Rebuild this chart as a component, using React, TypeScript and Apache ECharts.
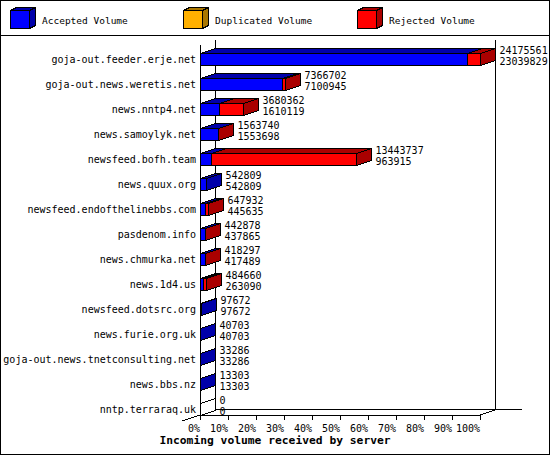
import { useEffect, useRef } from "react";
import * as echarts from "echarts";

const servers = [
  "goja-out.feeder.erje.net",
  "goja-out.news.weretis.net",
  "news.nntp4.net",
  "news.samoylyk.net",
  "newsfeed.bofh.team",
  "news.quux.org",
  "newsfeed.endofthelinebbs.com",
  "pasdenom.info",
  "news.chmurka.net",
  "news.1d4.us",
  "newsfeed.dotsrc.org",
  "news.furie.org.uk",
  "goja-out.news.tnetconsulting.net",
  "news.bbs.nz",
  "nntp.terraraq.uk",
];
const offered = [
  24175561, 7366702, 3680362, 1563740, 13443737, 542809, 647932, 442878,
  418297, 484660, 97672, 40703, 33286, 13303, 0,
];
const accepted = [
  23039829, 7100945, 1610119, 1553698, 963915, 542809, 445635, 437865,
  417489, 263090, 97672, 40703, 33286, 13303, 0,
];
const legendNames = ["Accepted Volume", "Duplicated Volume", "Rejected Volume"];
const axisTitle = "Incoming volume received by server";

const MAX = Math.max(...offered);
const DX = 15; // depth offsets of the fake 3D
const DY = 5;
const HALF = 6;
const FONT = '"DejaVu Sans Mono", monospace';

const BLUE = "#0000ff";
const DBLUE = "#0000aa";
const RED = "#ff0000";
const DRED = "#aa0000";
const ORANGE = "#ffb000";
const DORANGE = "#aa7700";

function box(xs: number, xe: number, c: number, front: string, side: string) {
  const top = c - HALF;
  const bot = c + HALF;
  const st = (fill: string) => ({ fill, stroke: "#000", lineWidth: 1 });
  return [
    { type: "rect", shape: { x: xs, y: top, width: xe - xs, height: bot - top }, style: st(front) },
    { type: "polygon", shape: { points: [[xs, top], [xe, top], [xe + DX, top - DY], [xs + DX, top - DY]] }, style: st(side) },
    { type: "polygon", shape: { points: [[xe, top], [xe + DX, top - DY], [xe + DX, bot - DY], [xe, bot]] }, style: st(side) },
  ];
}

function cube(x: number, y: number, front: string, side: string) {
  const w = 19, h = 18, d = 6, e = 3;
  const st = (fill: string) => ({ fill, stroke: "#000", lineWidth: 1 });
  return [
    { type: "polygon", shape: { points: [[x, y], [x + d, y - e], [x + w + d, y - e], [x + w, y]] }, style: st(side) },
    { type: "polygon", shape: { points: [[x + w, y], [x + w + d, y - e], [x + w + d, y + h - e], [x + w, y + h]] }, style: st(side) },
    { type: "rect", shape: { x, y, width: w, height: h }, style: st(front) },
  ];
}

export default function App() {
  const ref = useRef<HTMLDivElement>(null);

  useEffect(() => {
    if (!ref.current) return;
    const chart = echarts.init(ref.current, null, { renderer: "svg" });

    const legendPos = [10, 183, 357];
    const legendColors = [[BLUE, DBLUE], [ORANGE, DORANGE], [RED, DRED]];
    const legendGraphics: any[] = [];
    legendNames.forEach((name, k) => {
      legendGraphics.push({
        type: "group",
        children: cube(legendPos[k] + 0.5, 10.5, legendColors[k][0], legendColors[k][1]),
      });
      legendGraphics.push({
        type: "text",
        x: legendPos[k] + 32,
        y: 20,
        style: { text: name, fill: "#000", font: `9.5px ${FONT}`, verticalAlign: "middle" },
      });
    });

    chart.setOption({
      animation: false,
      backgroundColor: "#fff",
      grid: { left: 200, right: 70, top: 46.5, bottom: 33.5 },
      xAxis: {
        type: "value",
        min: 0,
        max: MAX,
        interval: MAX / 10,
        offset: -6.5,
        axisLine: { show: true, lineStyle: { color: "#000", width: 1 } },
        axisTick: { show: true, length: 5, lineStyle: { color: "#000" } },
        axisLabel: {
          color: "#000",
          fontFamily: FONT,
          fontSize: 10,
          align: "right",
          margin: 8,
          formatter: (v: number) => `${Math.round((v / MAX) * 100)}%`,
        },
        splitLine: { show: false },
      },
      yAxis: {
        type: "category",
        inverse: true,
        data: servers,
        axisLine: { show: false },
        axisTick: { show: false },
        axisLabel: { color: "#000", fontFamily: FONT, fontSize: 10, margin: 4 },
        splitLine: { show: false },
      },
      graphic: [
        { type: "rect", shape: { x: 0.5, y: 0.5, width: 549, height: 454 }, style: { fill: "none", stroke: "#000" }, z: 100 },
        { type: "line", shape: { x1: 0, y1: 35.5, x2: 550, y2: 35.5 }, style: { stroke: "#000" } },
        ...legendGraphics,
        {
          type: "text",
          left: "center",
          top: 435,
          style: { text: axisTitle, fill: "#000", font: `bold 11.3px ${FONT}` },
        },
      ],
      series: [
        {
          // the walls and floor of the 3D frame
          type: "custom",
          clip: false,
          z: 1,
          silent: true,
          data: [[0, 0, 0]],
          encode: { x: 0, y: 1 },
          renderItem: (_p: any, api: any) => {
            const [x0, c0] = api.coord([0, 0]);
            const [x1, cl] = api.coord([MAX, servers.length - 1]);
            const yTop = c0 - HALF - 8;
            const yBot = cl + HALF;
            const ln = (a: number, b: number, c: number, d: number) => ({
              type: "line",
              shape: { x1: a, y1: b, x2: c, y2: d },
              style: { stroke: "#000", lineWidth: 1 },
            });
            return {
              type: "group",
              children: [
                ln(x0 + 0.5, yTop, x0 + 0.5, yBot),
                ln(x0 + DX + 0.5, yTop - DY, x0 + DX + 0.5, yBot - DY),
                ln(x1 + DX + 0.5, yTop - DY, x1 + DX + 0.5, yBot - DY),
                ln(x0 + DX, yBot - DY - 0.5, x1 + DX + 27, yBot - DY - 0.5),
                ln(x1, yBot, x1 + DX, yBot - DY),
                ln(x0 - 18, yBot + 6, x0 + DX, yBot - DY),
              ],
            };
          },
        },
        {
          type: "custom",
          clip: false,
          z: 2,
          data: servers.map((_, i) => [offered[i], i, accepted[i]]),
          encode: { x: [0, 2], y: 1 },
          renderItem: (_p: any, api: any) => {
            const tot = api.value(0);
            const i = api.value(1);
            const acc = api.value(2);
            const [x0r, cr] = api.coord([0, i]);
            const x0 = Math.round(x0r) + 0.5;
            const c = Math.round(cr) + 0.5;
            const xa = Math.round(api.coord([acc, i])[0]) + 0.5;
            const xt = Math.round(api.coord([tot, i])[0]) + 0.5;
            let children: any[] = [];
            if (tot === 0) {
              children = box(x0, x0, c, "#fff", "#fff");
            } else {
              children = box(x0, xa, c, BLUE, DBLUE);
              if (tot > acc) children = children.concat(box(xa, xt, c, RED, DRED));
            }
            const tx = xt + DX + 4;
            children.push(
              { type: "text", x: tx, y: c - 9.5, style: { text: String(tot), fill: "#000", font: `10px ${FONT}`, verticalAlign: "middle" } },
              { type: "text", x: tx, y: c + 2, style: { text: String(acc), fill: "#000", font: `10px ${FONT}`, verticalAlign: "middle" } },
            );
            return { type: "group", children };
          },
        },
      ],
    });

    return () => chart.dispose();
  }, []);

  return (
    <>
      <style>{"#chart svg path { shape-rendering: crispEdges; }"}</style>
      <div
        id="chart"
        ref={ref}
        style={{ position: "absolute", left: 0, top: 0, width: 550, height: 455, background: "#fff" }}
      />
    </>
  );
}
